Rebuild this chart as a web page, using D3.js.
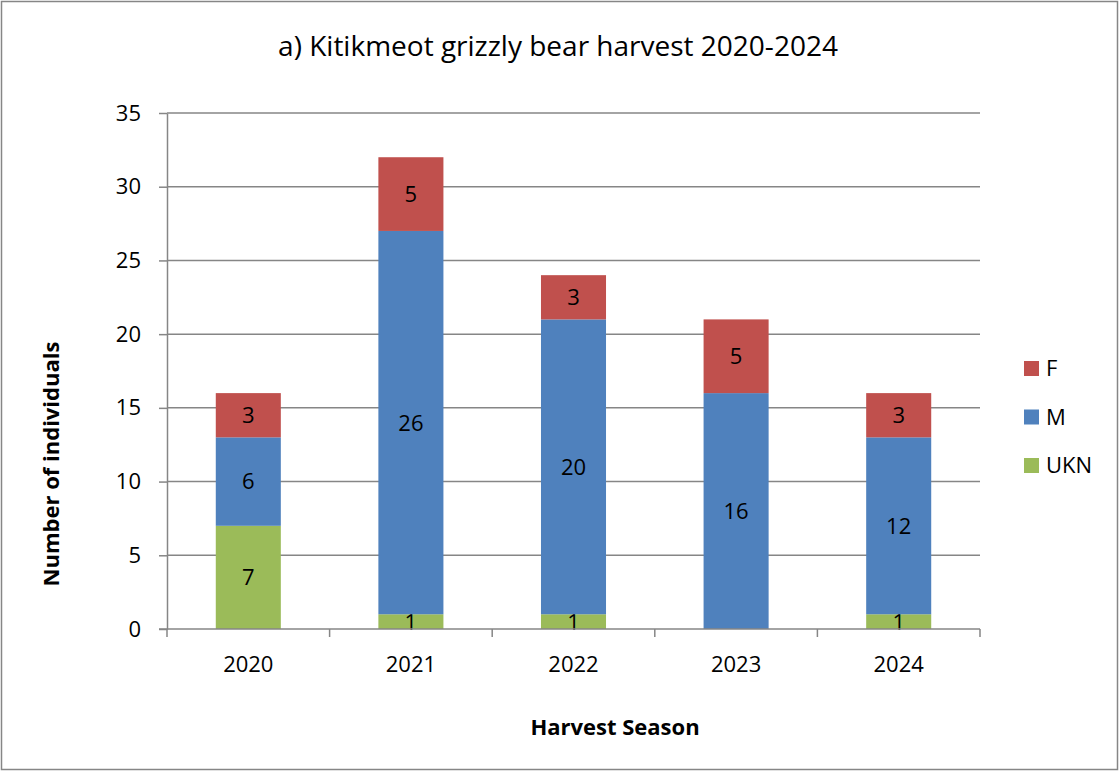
<!DOCTYPE html>
<html>
<head>
<meta charset="utf-8">
<script src="https://cdn.jsdelivr.net/npm/d3@7"></script>
<style>
  html, body { margin: 0; padding: 0; background: #fff; }
  svg { display: block; }
  text { font-family: "Open Sans", "Liberation Sans", sans-serif; fill: #000; }
</style>
</head>
<body>
<svg id="chart" width="1120" height="772"></svg>
<script>
// Harvest counts by season and sex
const seasons = ["2020", "2021", "2022", "2023", "2024"];
const seriesKeys = ["UKN", "M", "F"];
const ukn = [7, 1, 1, 0, 1];
const male = [6, 26, 20, 16, 12];
const female = [3, 5, 3, 5, 3];
const yTicks = [0, 5, 10, 15, 20, 25, 30, 35];
const legendOrder = ["F", "M", "UKN"];

const colors = { F: "#C0504D", M: "#4F81BD", UKN: "#9BBB59" };

const rows = seasons.map((s, i) => ({ season: s, UKN: ukn[i], M: male[i], F: female[i] }));
const stacked = d3.stack().keys(seriesKeys)(rows);

const svg = d3.select("#chart");
const W = 1120, H = 772;
const plot = { left: 167, right: 980, top: 113, bottom: 629 };
const fs = 22;

// outer chart border
svg.append("rect")
  .attr("x", 1.5).attr("y", 1.5)
  .attr("width", W - 4).attr("height", H - 4)
  .attr("fill", "#fff").attr("stroke", "#868686").attr("stroke-width", 1.5);

const x = d3.scaleBand().domain(seasons).range([plot.left, plot.right]).paddingInner(0.6).paddingOuter(0.3);
const xOuter = d3.scaleBand().domain(seasons).range([plot.left, plot.right]);
const y = d3.scaleLinear().domain([0, 35]).range([plot.bottom, plot.top]);

// horizontal gridlines
svg.append("g")
  .selectAll("line")
  .data(yTicks.filter(t => t > 0))
  .join("line")
  .attr("x1", plot.left).attr("x2", plot.right)
  .attr("y1", d => y(d)).attr("y2", d => y(d))
  .attr("stroke", "#868686").attr("stroke-width", 1.5);

// y axis
const yAxis = svg.append("g")
  .attr("transform", `translate(${plot.left},0)`)
  .call(d3.axisLeft(y).tickValues(yTicks).tickSize(8).tickPadding(18).tickSizeOuter(0));
yAxis.select(".domain").attr("stroke", "#868686").attr("stroke-width", 1.5);
yAxis.selectAll(".tick line").attr("stroke", "#868686").attr("stroke-width", 1.5);
yAxis.selectAll(".tick text").attr("font-size", fs).attr("font-family", "Open Sans, sans-serif").attr("fill", "#000");

// bars
const layer = svg.append("g").selectAll("g")
  .data(stacked)
  .join("g")
  .attr("fill", d => colors[d.key]);

layer.selectAll("rect")
  .data(d => d.map(p => ({ key: d.key, p })))
  .join("rect")
  .attr("x", d => x(d.p.data.season))
  .attr("width", x.bandwidth())
  .attr("y", d => y(d.p[1]))
  .attr("height", d => y(d.p[0]) - y(d.p[1]));

// x axis with category-boundary ticks
svg.append("line")
  .attr("x1", plot.left).attr("x2", plot.right)
  .attr("y1", plot.bottom).attr("y2", plot.bottom)
  .attr("stroke", "#868686").attr("stroke-width", 1.5);
const bounds = seasons.map(s => xOuter(s)).concat([plot.right]);
svg.append("g").selectAll("line")
  .data(bounds)
  .join("line")
  .attr("x1", d => d).attr("x2", d => d)
  .attr("y1", plot.bottom).attr("y2", plot.bottom + 8)
  .attr("stroke", "#868686").attr("stroke-width", 1.5);
svg.append("line")
  .attr("x1", plot.left - 8).attr("x2", plot.left)
  .attr("y1", plot.bottom).attr("y2", plot.bottom)
  .attr("stroke", "#868686").attr("stroke-width", 1.5);
svg.append("g").selectAll("text")
  .data(seasons)
  .join("text")
  .attr("x", d => x(d) + x.bandwidth() / 2)
  .attr("y", plot.bottom + 43)
  .attr("text-anchor", "middle")
  .attr("font-size", fs)
  .text(d => d);

// value labels centred in each segment
layer.selectAll("text")
  .data(d => d.map(p => ({ key: d.key, p })).filter(e => e.p[1] - e.p[0] > 0))
  .join("text")
  .attr("x", d => x(d.p.data.season) + x.bandwidth() / 2)
  .attr("y", d => (y(d.p[0]) + y(d.p[1])) / 2)
  .attr("dy", "0.36em")
  .attr("text-anchor", "middle")
  .attr("font-size", fs)
  .attr("fill", "#000")
  .text(d => d.p[1] - d.p[0]);

// title
svg.append("text")
  .attr("x", 558).attr("y", 56)
  .attr("text-anchor", "middle")
  .attr("font-size", 28)
  .text("a) Kitikmeot grizzly bear harvest 2020-2024");

// axis titles
svg.append("text")
  .attr("x", 615).attr("y", 735)
  .attr("text-anchor", "middle")
  .attr("font-size", fs).attr("font-weight", "bold")
  .text("Harvest Season");
svg.append("text")
  .attr("transform", `translate(59,464) rotate(-90)`)
  .attr("text-anchor", "middle")
  .attr("font-size", fs).attr("font-weight", "bold")
  .text("Number of individuals");

// legend
const legend = svg.append("g").selectAll("g")
  .data(legendOrder)
  .join("g")
  .attr("transform", (d, i) => `translate(1024,${361 + i * 48.5})`);
legend.append("rect")
  .attr("width", 15).attr("height", 15)
  .attr("fill", d => colors[d]);
legend.append("text")
  .attr("x", 22).attr("y", 7.5).attr("dy", "0.36em")
  .attr("font-size", fs)
  .text(d => d);
</script>
</body>
</html>
